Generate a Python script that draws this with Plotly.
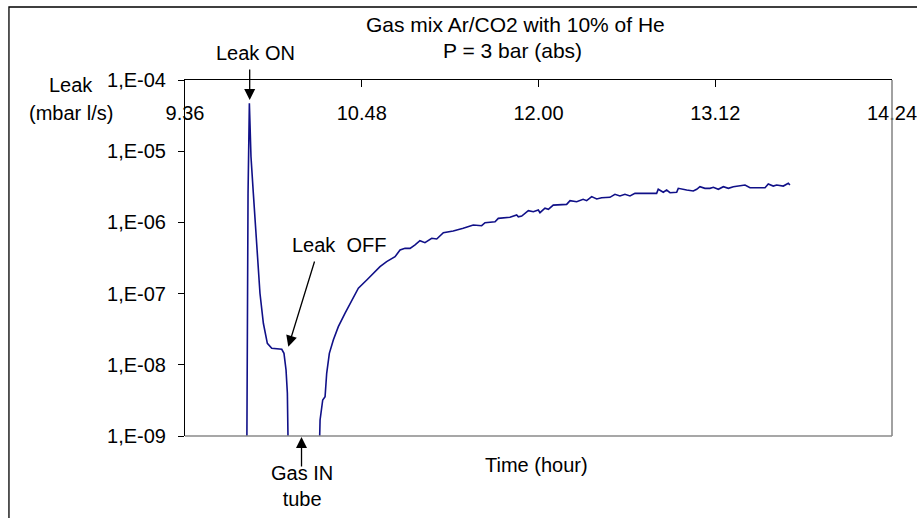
import plotly.graph_objects as go

# Leak rate measured by the sniffer, time in decimal hours
time_h = [
    10.018, 10.028, 10.037, 10.041, 10.048, 10.064, 10.087, 10.109, 10.132, 10.159,
    10.189, 10.257, 10.272, 10.286, 10.295, 10.306,
    10.503, 10.517, 10.535, 10.551, 10.562, 10.580, 10.607, 10.641, 10.686, 10.743,
    10.777, 10.834, 10.868, 10.924, 10.969, 11.026, 11.060, 11.094, 11.128, 11.162,
    11.195, 11.229, 11.275, 11.309, 11.354, 11.421, 11.489, 11.557, 11.614, 11.637,
    11.705, 11.727, 11.806, 11.852, 11.863, 11.886, 11.931, 11.965, 11.999, 12.010,
    12.044, 12.067, 12.100, 12.191, 12.214, 12.259, 12.303, 12.327, 12.361, 12.395,
    12.429, 12.485, 12.519, 12.553, 12.587, 12.621, 12.655, 12.802, 12.813, 12.847,
    12.870, 12.893, 12.938, 12.949, 13.006, 13.051, 13.074, 13.096, 13.130, 13.164,
    13.187, 13.221, 13.255, 13.289, 13.323, 13.402, 13.436, 13.538, 13.560, 13.594,
    13.617, 13.662, 13.696, 13.707,
]
leak_mbar_ls = [
    1e-10, 2.59e-6, 4.71e-5, 2.21e-5, 8.37e-6, 2.56e-6, 4.56e-7, 1.01e-7, 3.83e-8, 2.00e-8,
    1.71e-8, 1.65e-8, 1.45e-8, 8.45e-9, 3.98e-9, 1e-10,
    1e-10, 1.68e-9, 3.21e-9, 3.56e-9, 7.60e-9, 1.45e-8, 2.23e-8, 3.43e-8, 5.28e-8, 9.04e-8,
    1.19e-7, 1.55e-7, 1.82e-7, 2.39e-7, 2.81e-7, 3.30e-7, 4.09e-7, 4.32e-7, 4.32e-7, 4.82e-7,
    5.53e-7, 5.19e-7, 5.98e-7, 5.85e-7, 7.17e-7, 7.57e-7, 8.26e-7, 9.19e-7, 8.99e-7, 9.91e-7,
    1.02e-6, 1.14e-6, 1.18e-6, 1.27e-6, 1.20e-6, 1.23e-6, 1.46e-6, 1.41e-6, 1.49e-6, 1.37e-6,
    1.58e-6, 1.53e-6, 1.75e-6, 1.79e-6, 2.02e-6, 1.95e-6, 2.11e-6, 2.02e-6, 2.30e-6, 2.13e-6,
    2.22e-6, 2.25e-6, 2.48e-6, 2.35e-6, 2.48e-6, 2.35e-6, 2.56e-6, 2.56e-6, 2.92e-6, 2.65e-6,
    2.85e-6, 2.61e-6, 2.65e-6, 3.01e-6, 2.85e-6, 2.76e-6, 2.92e-6, 3.17e-6, 3.01e-6, 3.01e-6,
    3.11e-6, 2.92e-6, 3.17e-6, 3.01e-6, 3.17e-6, 3.35e-6, 3.07e-6, 3.07e-6, 3.46e-6, 3.24e-6,
    3.35e-6, 3.24e-6, 3.54e-6, 3.35e-6,
]

x_tick_vals = [9.6, 10.8, 12.0, 13.2, 14.4]
x_tick_text = ["9.36", "10.48", "12.00", "13.12", "14.24"]
y_tick_vals = [1e-9, 1e-8, 1e-7, 1e-6, 1e-5, 1e-4]
y_tick_text = ["1,E-09", "1,E-08", "1,E-07", "1,E-06", "1,E-05", "1,E-04"]

FONT = "Liberation Sans, Arial, sans-serif"
FS = 20

fig = go.Figure()
fig.add_trace(go.Scatter(
    x=time_h, y=leak_mbar_ls, mode="lines",
    line=dict(color="#101088", width=1.6),
    showlegend=False, hoverinfo="skip",
))

fig.update_xaxes(
    range=[9.6, 14.4], side="top", automargin=False,
    tickvals=x_tick_vals, ticktext=x_tick_text,
    ticks="inside", ticklen=7, tickwidth=1, tickcolor="black",
    ticklabelposition="inside", ticklabeloverflow="allow",
    ticklabelstandoff=20,
    showline=True, linecolor="black", linewidth=1,
    showgrid=False, zeroline=False,
    tickfont=dict(family=FONT, size=FS, color="black"),
)
fig.update_yaxes(
    type="log", range=[-9, -4], automargin=False,
    tickvals=y_tick_vals, ticktext=y_tick_text,
    ticks="outside", ticklen=6, tickwidth=1, tickcolor="black",
    ticklabelstandoff=8,
    showline=True, linecolor="black", linewidth=1,
    showgrid=False, zeroline=False,
    tickfont=dict(family=FONT, size=FS, color="black"),
)

shapes = [
    # gray right and bottom frame of the plot area
    dict(type="line", xref="paper", yref="paper", x0=1, x1=1, y0=0, y1=1,
         line=dict(color="#8a8a8a", width=1.6)),
    dict(type="line", xref="paper", yref="paper", x0=0, x1=1, y0=0, y1=0,
         line=dict(color="#8a8a8a", width=1.6)),
    # chart border
    dict(type="rect", xref="paper", yref="paper", x0=-0.249, x1=1.2, y0=-0.4, y1=1.205,
         line=dict(color="black", width=1.3)),
]

txt = dict(family=FONT, size=FS, color="black")


def label(text, x, y, size=FS):
    return dict(text=text, x=x, y=y, xref="paper", yref="paper", showarrow=False,
                xanchor="center", yanchor="middle",
                font=dict(family=FONT, size=size, color="black"))


def arrow(x, y, ax, ay):
    return dict(text="", x=x, y=y, xref="paper", yref="paper", ax=ax, ay=ay,
                showarrow=True, arrowhead=2, arrowsize=1.7, arrowwidth=1.3,
                arrowcolor="black", standoff=0)


annotations = [
    label("Gas mix Ar/CO2 with 10% of He", 0.467, 1.155, size=21),
    label("P = 3 bar (abs)", 0.463, 1.083, size=21),
    label("Leak", -0.161, 0.985),
    label("(mbar l/s)", -0.161, 0.906),
    label("Time (hour)", 0.4965, -0.0815),
    label("Leak ON", 0.1004, 1.0758),
    label("Leak\u00a0 OFF", 0.2178, 0.5365),
    label("Gas IN<br>tube", 0.166, -0.1404),
    arrow(0.0915, 0.9438, 0, -32),
    arrow(0.1461, 0.2508, 26.7, -86.7),
    arrow(0.1648, -0.0028, 0, 31),
]

fig.update_layout(
    width=917, height=518,
    margin=dict(l=185, r=25, t=80, b=82),
    paper_bgcolor="white", plot_bgcolor="white",
    font=txt,
    shapes=shapes, annotations=annotations,
)

fig.write_html("out.html")
